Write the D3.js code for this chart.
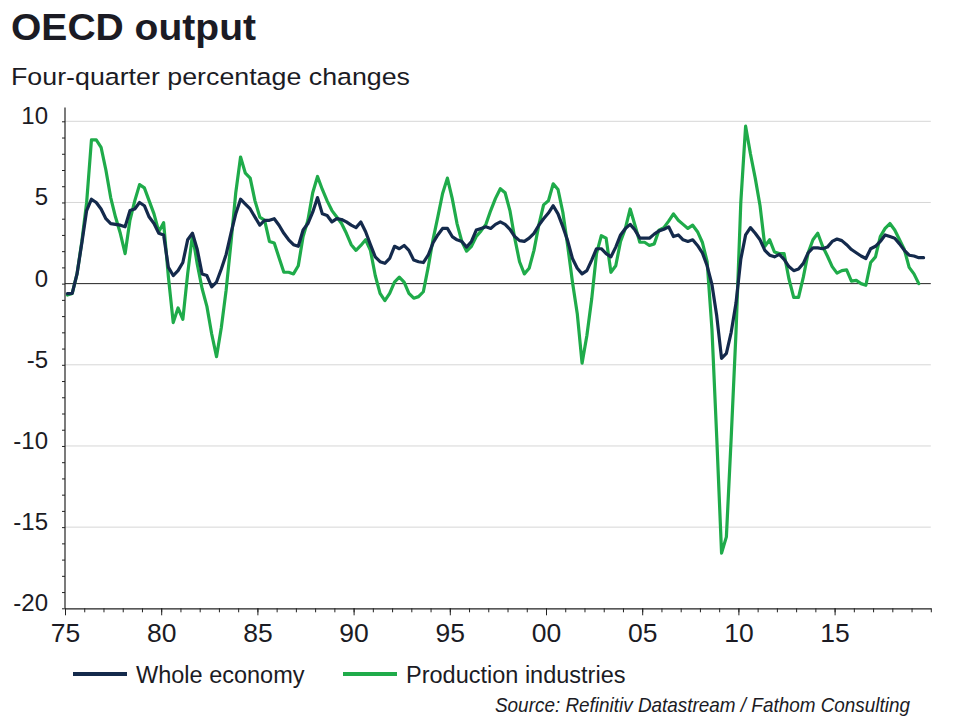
<!DOCTYPE html>
<html>
<head>
<meta charset="utf-8">
<script src="https://cdn.jsdelivr.net/npm/d3@7"></script>
<style>
  html, body { margin: 0; padding: 0; background: #ffffff; }
  svg { display: block; font-family: "Liberation Sans", Arial, Helvetica, sans-serif; }
</style>
</head>
<body>
<script>
// ---------------- DATA ----------------
const startYear = 1975;           // first observation: 1975 Q1
const seriesNames = ["Whole economy", "Production industries"];
// Four-quarter % change, quarterly, 1975Q1 .. 2019Q3
const wholeEconomy = [
  -0.62,-0.6,0.6,2.5,4.5,5.2,5.0,4.6,4.0,3.7,
  3.65,3.6,3.5,4.5,4.6,5.0,4.8,4.1,3.7,3.1,
  3.0,1.0,0.5,0.8,1.3,2.7,3.1,2.1,0.6,0.5,
  -0.2,0.1,0.9,1.8,3.1,4.3,5.2,4.9,4.6,4.1,
  3.6,3.9,3.9,4.0,3.6,3.1,2.7,2.4,2.3,3.3,
  3.7,4.4,5.3,4.3,4.2,3.8,4.0,3.95,3.8,3.6,
  3.45,3.8,3.2,2.4,1.65,1.35,1.25,1.55,2.3,2.15,
  2.35,2.05,1.45,1.35,1.3,1.75,2.5,3.0,3.4,3.4,
  2.9,2.7,2.6,2.25,2.6,3.3,3.4,3.5,3.4,3.65,
  3.8,3.65,3.35,2.9,2.65,2.6,2.8,3.1,3.6,4.0,
  4.35,4.8,4.3,3.5,2.65,1.55,0.95,0.6,0.8,1.45,
  2.15,2.15,1.85,1.65,2.25,3.0,3.4,3.65,3.3,2.8,
  2.8,2.8,3.05,3.25,3.35,3.5,2.9,3.0,2.7,2.6,
  2.7,2.35,1.9,1.1,-0.05,-2.0,-4.6,-4.3,-3.0,-1.2,
  1.5,3.0,3.45,3.1,2.7,2.05,1.75,1.65,1.8,1.5,
  1.05,0.8,0.9,1.25,1.9,2.2,2.2,2.15,2.25,2.6,
  2.75,2.65,2.4,2.1,1.9,1.7,1.55,2.15,2.3,2.6,
  3.0,2.9,2.8,2.45,2.05,1.75,1.7,1.6,1.6
];
// Four-quarter % change, quarterly, 1975Q1 .. 2019Q2
const productionIndustries = [
  -0.7,-0.6,0.6,2.6,5.0,8.85,8.85,8.4,7.0,5.3,
  4.1,3.1,1.85,3.9,5.1,6.1,5.9,5.1,4.3,3.2,
  3.75,0.4,-2.4,-1.5,-2.2,0.6,3.0,1.2,-0.3,-1.4,
  -3.1,-4.5,-2.7,-0.4,2.5,5.6,7.8,6.8,6.5,5.1,
  4.1,3.9,2.6,2.5,1.6,0.7,0.7,0.6,1.1,2.9,
  3.9,5.6,6.6,5.8,5.1,4.5,4.1,3.7,3.1,2.4,
  2.05,2.35,2.7,2.05,0.5,-0.6,-1.05,-0.6,0.1,0.4,
  0.1,-0.6,-0.9,-0.8,-0.5,1.0,2.7,4.1,5.55,6.5,
  5.25,3.7,2.6,2.0,2.3,2.9,3.25,3.65,4.5,5.25,
  5.85,5.6,4.5,2.8,1.35,0.6,0.95,2.05,3.6,4.85,
  5.1,6.15,5.8,4.4,2.35,0.1,-1.85,-4.9,-3.2,-0.95,
  1.85,2.95,2.8,0.7,1.1,2.6,3.4,4.6,3.6,2.55,
  2.55,2.35,2.45,3.3,3.45,3.85,4.3,3.9,3.65,3.4,
  3.6,3.2,2.55,1.35,-2.8,-9.5,-16.6,-15.6,-9.5,-3.0,
  5.0,9.7,8.0,6.5,4.8,2.3,2.7,1.95,1.85,1.85,
  0.3,-0.85,-0.85,0.4,1.9,2.7,3.1,2.3,1.7,1.05,
  0.65,0.8,0.85,0.15,0.2,0.0,-0.1,1.3,1.65,2.9,
  3.4,3.7,3.3,2.7,2.1,1.0,0.6,0.0
];
const yMajorTicks = [10, 5, 0, -5, -10, -15, -20];
const xMajorTicks = [1975, 1980, 1985, 1990, 1995, 2000, 2005, 2010, 2015];
const xTickLabels = ["75", "80", "85", "90", "95", "00", "05", "10", "15"];
const titleText = "OECD output";
const subtitleText = "Four-quarter percentage changes";
const sourceText = "Source: Refinitiv Datastream / Fathom Consulting";

// ---------------- STYLE ----------------
const colDark = "#142a4c";
const colGreen = "#1fab4a";
const colText = "#1b1b24";
const colGrid = "#d6d6d6";

// ---------------- CHART ----------------
const W = 960, H = 720;
const svg = d3.select("body").append("svg").attr("width", W).attr("height", H);

const x = d3.scaleLinear().domain([1975, 2020]).range([65, 930.8]);
const y = d3.scaleLinear().domain([-20, 10]).range([608.3, 121.3]);
const qDate = i => startYear + 0.125 + 0.25 * i;   // mid-quarter

// title & subtitle
svg.append("text").attr("x", 11).attr("y", 39.5)
  .attr("font-size", 37).attr("font-weight", "bold").attr("fill", colText)
  .attr("textLength", 245).attr("lengthAdjust", "spacingAndGlyphs")
  .text(titleText);
svg.append("text").attr("x", 11).attr("y", 85)
  .attr("font-size", 24.5).attr("fill", colText)
  .attr("textLength", 399).attr("lengthAdjust", "spacingAndGlyphs")
  .text(subtitleText);

// gridlines
const [x0, x1] = x.range();
svg.append("g").selectAll("line")
  .data(yMajorTicks.filter(v => v !== 0 && v !== -20))
  .join("line")
  .attr("x1", x0).attr("x2", x1)
  .attr("y1", d => y(d)).attr("y2", d => y(d))
  .attr("stroke", colGrid).attr("stroke-width", 1);
// zero line
svg.append("line").attr("x1", x0).attr("x2", x1)
  .attr("y1", y(0)).attr("y2", y(0))
  .attr("stroke", "#222").attr("stroke-width", 1);

// y axis: minor ticks each unit
const yAxis = d3.axisLeft(y).tickValues(d3.range(-20, 11, 1)).tickSize(3).tickSizeOuter(0).tickFormat("");
const gy = svg.append("g").attr("transform", `translate(${x0},0)`).call(yAxis);
gy.select(".domain").remove();
gy.selectAll(".tick line").attr("stroke", "#222");
svg.append("line").attr("x1", x0).attr("x2", x0)
  .attr("y1", y(10.85)).attr("y2", y(-20))
  .attr("stroke", "#222").attr("stroke-width", 1.2);
// y labels
svg.append("g").selectAll("text").data(yMajorTicks).join("text")
  .attr("x", 48).attr("y", d => y(d) + 3)
  .attr("text-anchor", "end").attr("font-size", 24).attr("fill", colText)
  .text(d => d);

// x axis
const xAxisMinor = d3.axisBottom(x).tickValues(d3.range(1975, 2021, 1)).tickSize(4).tickSizeOuter(0).tickFormat("");
const gx = svg.append("g").attr("transform", `translate(0,${y(-20)})`).call(xAxisMinor);
gx.select(".domain").attr("stroke", "#222").attr("stroke-width", 1.2);
gx.selectAll(".tick line").attr("stroke", "#222");
const xAxisMajor = d3.axisBottom(x).tickValues(xMajorTicks).tickSize(7).tickSizeOuter(0)
  .tickFormat((d, i) => xTickLabels[i]);
const gx2 = svg.append("g").attr("transform", `translate(0,${y(-20)})`).call(xAxisMajor);
gx2.select(".domain").remove();
gx2.selectAll(".tick line").attr("stroke", "#222");
gx2.selectAll(".tick text").attr("font-size", 26.5).attr("fill", colText)
  .attr("font-family", "Liberation Sans, Arial, sans-serif")
  .attr("dy", null).attr("y", 34);

// lines
const line = d3.line().x((d, i) => x(qDate(i))).y(d => y(d));
svg.append("path").datum(productionIndustries)
  .attr("d", line).attr("fill", "none")
  .attr("stroke", colGreen).attr("stroke-width", 3.2)
  .attr("stroke-linejoin", "round").attr("stroke-linecap", "round");
svg.append("path").datum(wholeEconomy)
  .attr("d", line).attr("fill", "none")
  .attr("stroke", colDark).attr("stroke-width", 3.2)
  .attr("stroke-linejoin", "round").attr("stroke-linecap", "round");

// legend
const legend = [
  { name: seriesNames[0], color: colDark, x: 73 },
  { name: seriesNames[1], color: colGreen, x: 343 }
];
const lg = svg.append("g").selectAll("g").data(legend).join("g")
  .attr("transform", d => `translate(${d.x},674)`);
lg.append("line").attr("x1", 0).attr("x2", 54).attr("y1", 0).attr("y2", 0)
  .attr("stroke", d => d.color).attr("stroke-width", 4.2);
lg.append("text").attr("x", 63).attr("y", 8.5)
  .attr("font-size", 23.5).attr("fill", colText)
  .text(d => d.name);

// source
svg.append("text").attr("x", 495).attr("y", 712)
  .attr("font-size", 21).attr("font-style", "italic").attr("fill", colText)
  .attr("textLength", 415).attr("lengthAdjust", "spacingAndGlyphs")
  .text(sourceText);
</script>
</body>
</html>
